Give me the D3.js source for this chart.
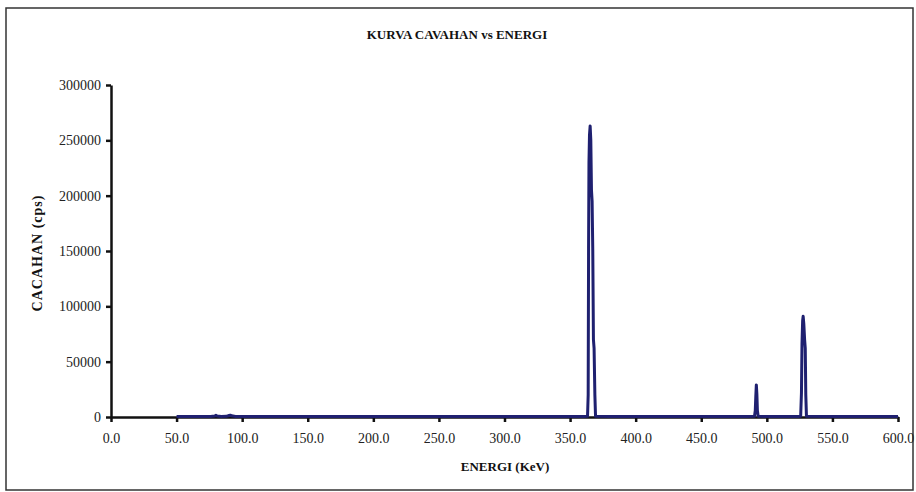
<!DOCTYPE html>
<html>
<head>
<meta charset="utf-8">
<script src="https://cdn.jsdelivr.net/npm/d3@7"></script>
<style>
  body { margin: 0; background: #fff; }
  text { font-family: "Liberation Serif", "Times New Roman", serif; fill: #111; }
</style>
</head>
<body>
<script>
// spectrum points (keV, cps)
const energy = [
  50, 60, 70, 76, 79, 80, 81, 84, 88, 90, 91, 92, 95, 110, 150, 200, 250, 300, 340, 360,
  363.3, 363.8, 364.1, 364.4, 364.8, 365.3, 365.8, 366.3, 366.8, 367.3, 367.8, 368.3, 368.9, 369.4,
  380, 420, 460, 485,
  490.6, 491.2, 491.6, 492.0, 492.4, 492.8, 493.4,
  500, 515, 524,
  525.8, 526.4, 526.8, 527.3, 527.7, 528.2, 528.8, 529.3, 529.7, 530.2,
  545, 570, 600
];
const counts = [
  400, 500, 450, 500, 900, 1500, 900, 500, 600, 1300, 1600, 1100, 500, 450, 400, 350, 350, 400, 450, 500,
  600, 20000, 152000, 230000, 255000, 263000, 250000, 205000, 195000, 150000, 70000, 62000, 20000, 600,
  500, 450, 450, 500,
  700, 6000, 19000, 29000, 21000, 6000, 600,
  500, 450, 500,
  700, 22000, 66000, 87000, 91000, 84000, 70000, 62000, 20000, 600,
  450, 400, 400
];

const xTicks = [0, 50, 100, 150, 200, 250, 300, 350, 400, 450, 500, 550, 600];
const yTicks = [0, 50000, 100000, 150000, 200000, 250000, 300000];

const W = 916, H = 492;
const x0 = 111, x1 = 898, yBase = 417, yTop = 85;

const svg = d3.select("body").append("svg")
    .attr("width", W)
    .attr("height", H);

// outer chart frame
svg.append("rect")
    .attr("x", 6).attr("y", 8)
    .attr("width", W - 9).attr("height", H - 10)
    .attr("fill", "none")
    .attr("stroke", "#333")
    .attr("stroke-width", 1.5);

const x = d3.scaleLinear().domain([0, 600]).range([x0, x1]);
const y = d3.scaleLinear().domain([0, 300000]).range([yBase, yTop]);

const data = energy.map((e, i) => ({ e: e, c: counts[i] }));

// axes
const xAxis = svg.append("g")
    .attr("transform", `translate(0,${yBase})`)
    .call(d3.axisBottom(x).tickValues(xTicks).tickSize(5).tickSizeOuter(0)
        .tickFormat(d => d3.format(".1f")(d)));

const yAxis = svg.append("g")
    .attr("transform", `translate(${x0},0)`)
    .call(d3.axisLeft(y).tickValues(yTicks).tickSize(5).tickSizeOuter(0)
        .tickFormat(d3.format("d")));

[xAxis, yAxis].forEach(g => {
    g.attr("color", "#111");
    g.select(".domain").attr("stroke-width", 2.5);
    g.selectAll(".tick line").attr("stroke-width", 2.5);
    g.selectAll(".tick text")
        .style("font-family", "Liberation Serif, serif")
        .style("font-size", "14px")
        .style("fill", "#222");
});
xAxis.selectAll(".tick text").attr("y", 16).attr("dy", "0.71em");
yAxis.selectAll(".tick text").attr("x", -10);

// spectrum line
const line = d3.line()
    .x(d => x(d.e))
    .y(d => y(d.c));

svg.append("path")
    .datum(data)
    .attr("fill", "none")
    .attr("stroke", "#1f2070")
    .attr("stroke-width", 3)
    .attr("stroke-linejoin", "round")
    .attr("d", line);

// titles
svg.append("text")
    .attr("x", 457)
    .attr("y", 39)
    .attr("text-anchor", "middle")
    .style("font-size", "13px")
    .style("font-weight", "bold")
    .text("KURVA CAVAHAN vs ENERGI");

svg.append("text")
    .attr("x", 505)
    .attr("y", 471)
    .attr("text-anchor", "middle")
    .style("font-size", "13px")
    .style("font-weight", "bold")
    .text("ENERGI (KeV)");

svg.append("text")
    .attr("transform", `translate(42,${(yBase + yTop) / 2 + 2}) rotate(-90)`)
    .attr("text-anchor", "middle")
    .style("font-size", "14px")
    .style("font-weight", "bold")
    .style("letter-spacing", "1px")
    .text("CACAHAN (cps)");
</script>
</body>
</html>
